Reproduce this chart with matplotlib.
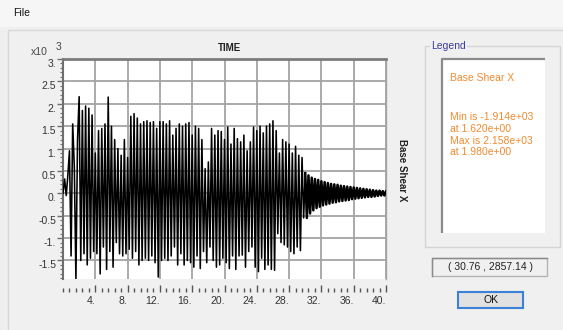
import numpy as np
import matplotlib
matplotlib.use("Agg")
import matplotlib.pyplot as plt
from matplotlib.patches import Rectangle
from matplotlib.ticker import MultipleLocator

plt.rcParams['font.family'] = ['Liberation Sans', 'DejaVu Sans']

# Base Shear X time history (values in x10^3), one peak every 0.2 s
dt = 0.2
shear_main = [
    0.00, 0.32, -0.05, 0.40, 0.95, -1.40, 1.55, 0.60, -1.914, 1.20,      # 0.0 - 1.8
    2.158, -1.50, 1.85, -1.35, 1.95, -1.60, 1.90, -1.45, 1.75, -1.30,    # 2.0 - 3.8
    0.90, -1.35, 1.40, -1.80, 1.45, -1.20, 1.55, -1.70, 2.15, -1.30,     # 4.0 - 5.8
    1.50, -1.65, 1.20, -1.10, 1.00, -1.35, 0.85, -1.40, 1.20, -1.35,     # 6.0 - 7.8
    0.80, -1.25, 1.72, -1.45, 1.78, -1.30, 1.68, -1.60, 1.55, -1.50,     # 8.0 - 9.8
    1.60, -1.45, 1.62, -1.50, 1.58, -1.40, 1.60, -1.55, 1.45, -1.87,     # 10.0 - 11.8
    1.60, -1.50, 1.60, -1.45, 1.55, -1.50, 1.62, -1.40, 1.30, -1.20,     # 12.0 - 13.8
    1.45, -1.60, 1.55, -1.35, 1.50, -1.60, 1.55, -1.50, 1.58, -1.55,     # 14.0 - 15.8
    1.30, -1.65, 1.50, -1.40, 1.45, -1.68, 1.20, -1.30, 0.55, -1.55,     # 16.0 - 17.8
    0.70, -1.20, 1.45, -1.50, 1.30, -1.65, 1.40, -1.60, 1.38, -1.45,     # 18.0 - 19.8
    1.20, -1.55, 1.48, -1.68, 1.10, -1.40, 1.45, -1.70, 1.22, -1.40,     # 20.0 - 21.8
    1.15, -1.38, 1.30, -1.65, 0.95, -1.30, 1.15, -1.20, 1.48, -1.65,     # 22.0 - 23.8
    1.40, -1.75, 1.50, -1.45, 1.35, -1.70, 1.50, -1.60, 1.55, -1.70,     # 24.0 - 25.8
    1.62, -1.72, 1.40, -0.90, 0.90, -1.10, 1.20, -1.15, 1.15, -1.20,     # 26.0 - 27.8
    1.10, -1.30, 0.90, -1.35, 1.05, -1.20, 0.85, -1.28, 0.80, -0.55,     # 28.0 - 29.8
]
shear_tail = [
    0.45, -0.55, 0.40, -0.45, 0.35, -0.38, 0.32, -0.33, 0.30, -0.30,     # 30.0 - 31.8
    0.27, -0.27, 0.25, -0.25, 0.23, -0.23, 0.21, -0.21, 0.20, -0.20,     # 32.0 - 33.8
    0.19, -0.18, 0.17, -0.17, 0.16, -0.16, 0.15, -0.15, 0.14, -0.13,     # 34.0 - 35.8
    0.13, -0.12, 0.12, -0.11, 0.11, -0.10, 0.10, -0.09, 0.09, -0.08,     # 36.0 - 37.8
    0.08, -0.08, 0.07, -0.07, 0.06, -0.06, 0.06, -0.05, 0.05, -0.05,     # 38.0 - 39.8
    0.04,
]
shear = np.array(shear_main + shear_tail)
time = np.arange(len(shear)) * dt
n_main = len(shear_main)

x_ticks = [4, 8, 12, 16, 20, 24, 28, 32, 36, 40]
x_labels = ['4.', '8.', '12.', '16.', '20.', '24.', '28.', '32.', '36.', '40.']
y_ticks = [3.0, 2.5, 2.0, 1.5, 1.0, 0.5, 0.0, -0.5, -1.0, -1.5]
y_labels = ['3.', '2.5', '2.', '1.5', '1.', '0.5', '0.', '-0.5', '-1.', '-1.5']

legend_lines = ['Min is -1.914e+03', 'at 1.620e+00', 'Max is 2.158e+03', 'at 1.980e+00']
cursor_text = '( 30.76 , 2857.14 )'

W, H = 563, 330
fig = plt.figure(figsize=(W / 100, H / 100), dpi=100)
fig.patch.set_facecolor('#efefef')

# background "window" drawn in pixel coords
bg = fig.add_axes([0, 0, 1, 1], zorder=0)
bg.set_xlim(0, W)
bg.set_ylim(H, 0)
bg.axis('off')
bg.add_patch(Rectangle((0, 0), W, 27, facecolor='#f6f6f6', edgecolor='none'))
bg.text(13, 13, 'File', fontsize=7.5, va='center', ha='left', color='#111111')
bg.add_patch(Rectangle((8, 30), W, H, facecolor='#f0f0f0', edgecolor='#d8d8d8', lw=1))

# legend group box
bg.add_patch(Rectangle((425, 46), 135, 201, facecolor='none', edgecolor='#d4d4d4', lw=1))
bg.text(431, 46, 'Legend', fontsize=7.5, color='#3a3aa8', va='center', ha='left',
        bbox=dict(facecolor='#f0f0f0', edgecolor='none', pad=1))
bg.add_patch(Rectangle((441, 58), 104, 175, facecolor='white', edgecolor='none'))
bg.plot([442, 442, 545], [233, 59, 59], color='#8a8a8a', lw=1.6, solid_capstyle='butt')
bg.text(450, 78, 'Base Shear X', fontsize=7.5, color='#f08a30', va='center', ha='left')
for i, line in enumerate(legend_lines):
    bg.text(450, 117 + i * 11.8, line, fontsize=7.5, color='#f08a30', va='center', ha='left')

# cursor readout box
bg.add_patch(Rectangle((432, 258), 115, 18, facecolor='#f0f0f0', edgecolor='#b4b4b4', lw=1))
bg.plot([432, 432, 547], [276, 258, 258], color='#8a8a8a', lw=1)
bg.text(490, 267, cursor_text, fontsize=7.5, color='#222222', va='center', ha='center')

# OK button
bg.add_patch(Rectangle((458, 292), 65, 16, facecolor='#e1e1e1', edgecolor='#3c80d8', lw=1.5))
bg.text(490.5, 300, 'OK', fontsize=7.5, color='#111111', va='center', ha='center')

# plot text around the axes
bg.text(229, 48, 'TIME', fontsize=7, fontweight='bold', va='center', ha='center', color='#222222')
bg.text(402, 170, 'Base Shear X', fontsize=7, fontweight='bold', rotation=270,
        va='center', ha='center', color='#222222')
bg.text(31, 52, 'x10', fontsize=7.5, va='center', ha='left', color='#444444')
bg.text(56, 47, '3', fontsize=7.5, va='center', ha='left', color='#444444')

# main plot
left, right, top, bottom = 63, 386, 59, 279
ax = fig.add_axes([left / W, 1 - bottom / H, (right - left) / W, (bottom - top) / H], zorder=1)
ax.set_facecolor('white')
ax.plot(time[:n_main + 1], shear[:n_main + 1], color='black', lw=1.15, zorder=3)
ax.plot(time[n_main:], shear[n_main:], color='black', lw=1.8, zorder=3)
ax.set_xlim(0, 40)
ax.set_ylim(-1.914, 3.0)

ax.set_xticks(x_ticks)
ax.set_xticklabels(x_labels)
ax.xaxis.set_minor_locator(MultipleLocator(0.8))
ax.set_yticks(y_ticks)
ax.set_yticklabels(y_labels)
ax.yaxis.set_minor_locator(MultipleLocator(0.1))

ax.grid(True, which='major', color='#a4a4a4', lw=1.3, zorder=1)
ax.set_axisbelow(True)

ax.spines['bottom'].set_position(('outward', 9))
ax.spines['bottom'].set_color('none')
ax.spines['top'].set_color('#7c7c7c')
ax.spines['top'].set_linewidth(2)
ax.spines['right'].set_color('#a4a4a4')
ax.spines['right'].set_linewidth(1)
ax.spines['left'].set_color('#6e6e6e')
ax.spines['left'].set_linewidth(1.5)

ax.tick_params(axis='x', which='major', direction='in', length=5, width=1,
               color='#555555', labelsize=7.5, labelcolor='#333333', pad=3)
ax.tick_params(axis='x', which='minor', direction='in', length=3, width=1, color='#555555')
ax.tick_params(axis='y', which='major', direction='out', length=4, width=1,
               color='#6e6e6e', labelsize=7.5, labelcolor='#333333', pad=1)
ax.tick_params(axis='y', which='minor', direction='out', length=2.5, width=0.8, color='#6e6e6e')
for lab in ax.get_xticklabels():
    lab.set_ha('right')
for lab in ax.get_yticklabels():
    lab.set_va('top')

fig.savefig('out.png', dpi=100, facecolor=fig.get_facecolor())
